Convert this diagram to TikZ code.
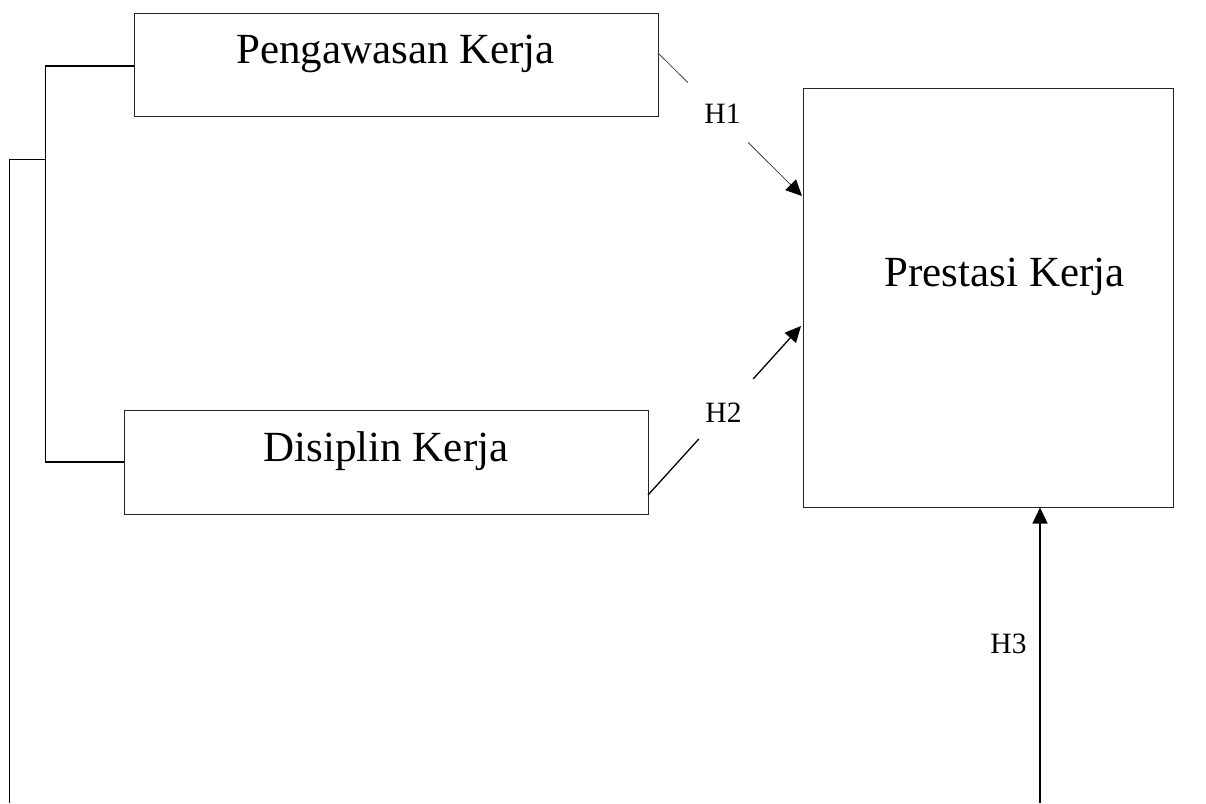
\documentclass[tikz,border=0pt]{standalone}
\usepackage{fontspec}
\setmainfont{Liberation Serif}
\usetikzlibrary{arrows.meta}
\begin{document}
\begin{tikzpicture}[x=1pt,y=-1pt,
  box/.style={draw=black!85,line width=1pt,rectangle,inner sep=0pt},
  maintext/.style={anchor=base,inner sep=0pt,font=\fontsize{43}{50}\selectfont},
  hlabel/.style={anchor=base,inner sep=0pt,font=\fontsize{29.5}{34}\selectfont},
  gapnode/.style={rectangle,inner sep=0pt},
  bracket/.style={line width=1.4pt,black},
  conn/.style={line width=1.3pt,black},
  thinconn/.style={line width=0.8pt,black!75},
  tip/.style={-{Triangle[length=16pt,width=15pt,color=black,fill=black]}}
]
\useasboundingbox (0,0) rectangle (1206,803);
% boxes
\node[box,minimum width=524pt,minimum height=103pt] (pk) at (396,64.5) {};
\node[box,minimum width=524pt,minimum height=104pt] (dk) at (386,462) {};
\node[box,minimum width=370pt,minimum height=419pt] (pr) at (988,297.5) {};
% texts
\node[maintext] (tpk) at (395.5,63) {Pengawasan Kerja};
\node[maintext] (tdk) at (386,461) {Disiplin Kerja};
\node[maintext] (tpr) at (1004.5,286) {Prestasi Kerja};
\node[hlabel] (l1) at (722.5,123) {H1};
\node[hlabel] (l2) at (723.5,422) {H2};
\node[hlabel] (l3) at (1008.5,653) {H3};
% bracket lines
\coordinate (b1) at (45.5,66);
\coordinate (b2) at (45.5,462);
\coordinate (b3) at (45.5,159.5);
\coordinate (c1) at (9.5,159.5);
\coordinate (c2) at (9.5,803);
\draw[bracket] (pk.west |- b1) -- (b1) -- (b2) -- (dk.west |- b2);
\draw[bracket] (c2) -- (c1) -- (b3);
% H1
\coordinate (h1s) at (658,53);
\coordinate (h1e) at (802,196);
\node[gapnode,minimum width=60pt,minimum height=61pt] (g1) at (718,112.5) {};
\draw[thinconn] (h1s) -- (g1);
\draw[thinconn,tip] (g1) -- (h1e);
% H2
\coordinate (h2s) at (648,495);
\coordinate (h2e) at (801,326);
\node[gapnode,minimum width=54pt,minimum height=62pt] (g2) at (726,409) {};
\draw[conn] (h2s) -- (g2);
\draw[conn,tip] (g2) -- (h2e);
% H3
\coordinate (h3s) at (1040,803);
\draw[conn,tip] (h3s) -- (h3s |- pr.south);
\end{tikzpicture}
\end{document}
